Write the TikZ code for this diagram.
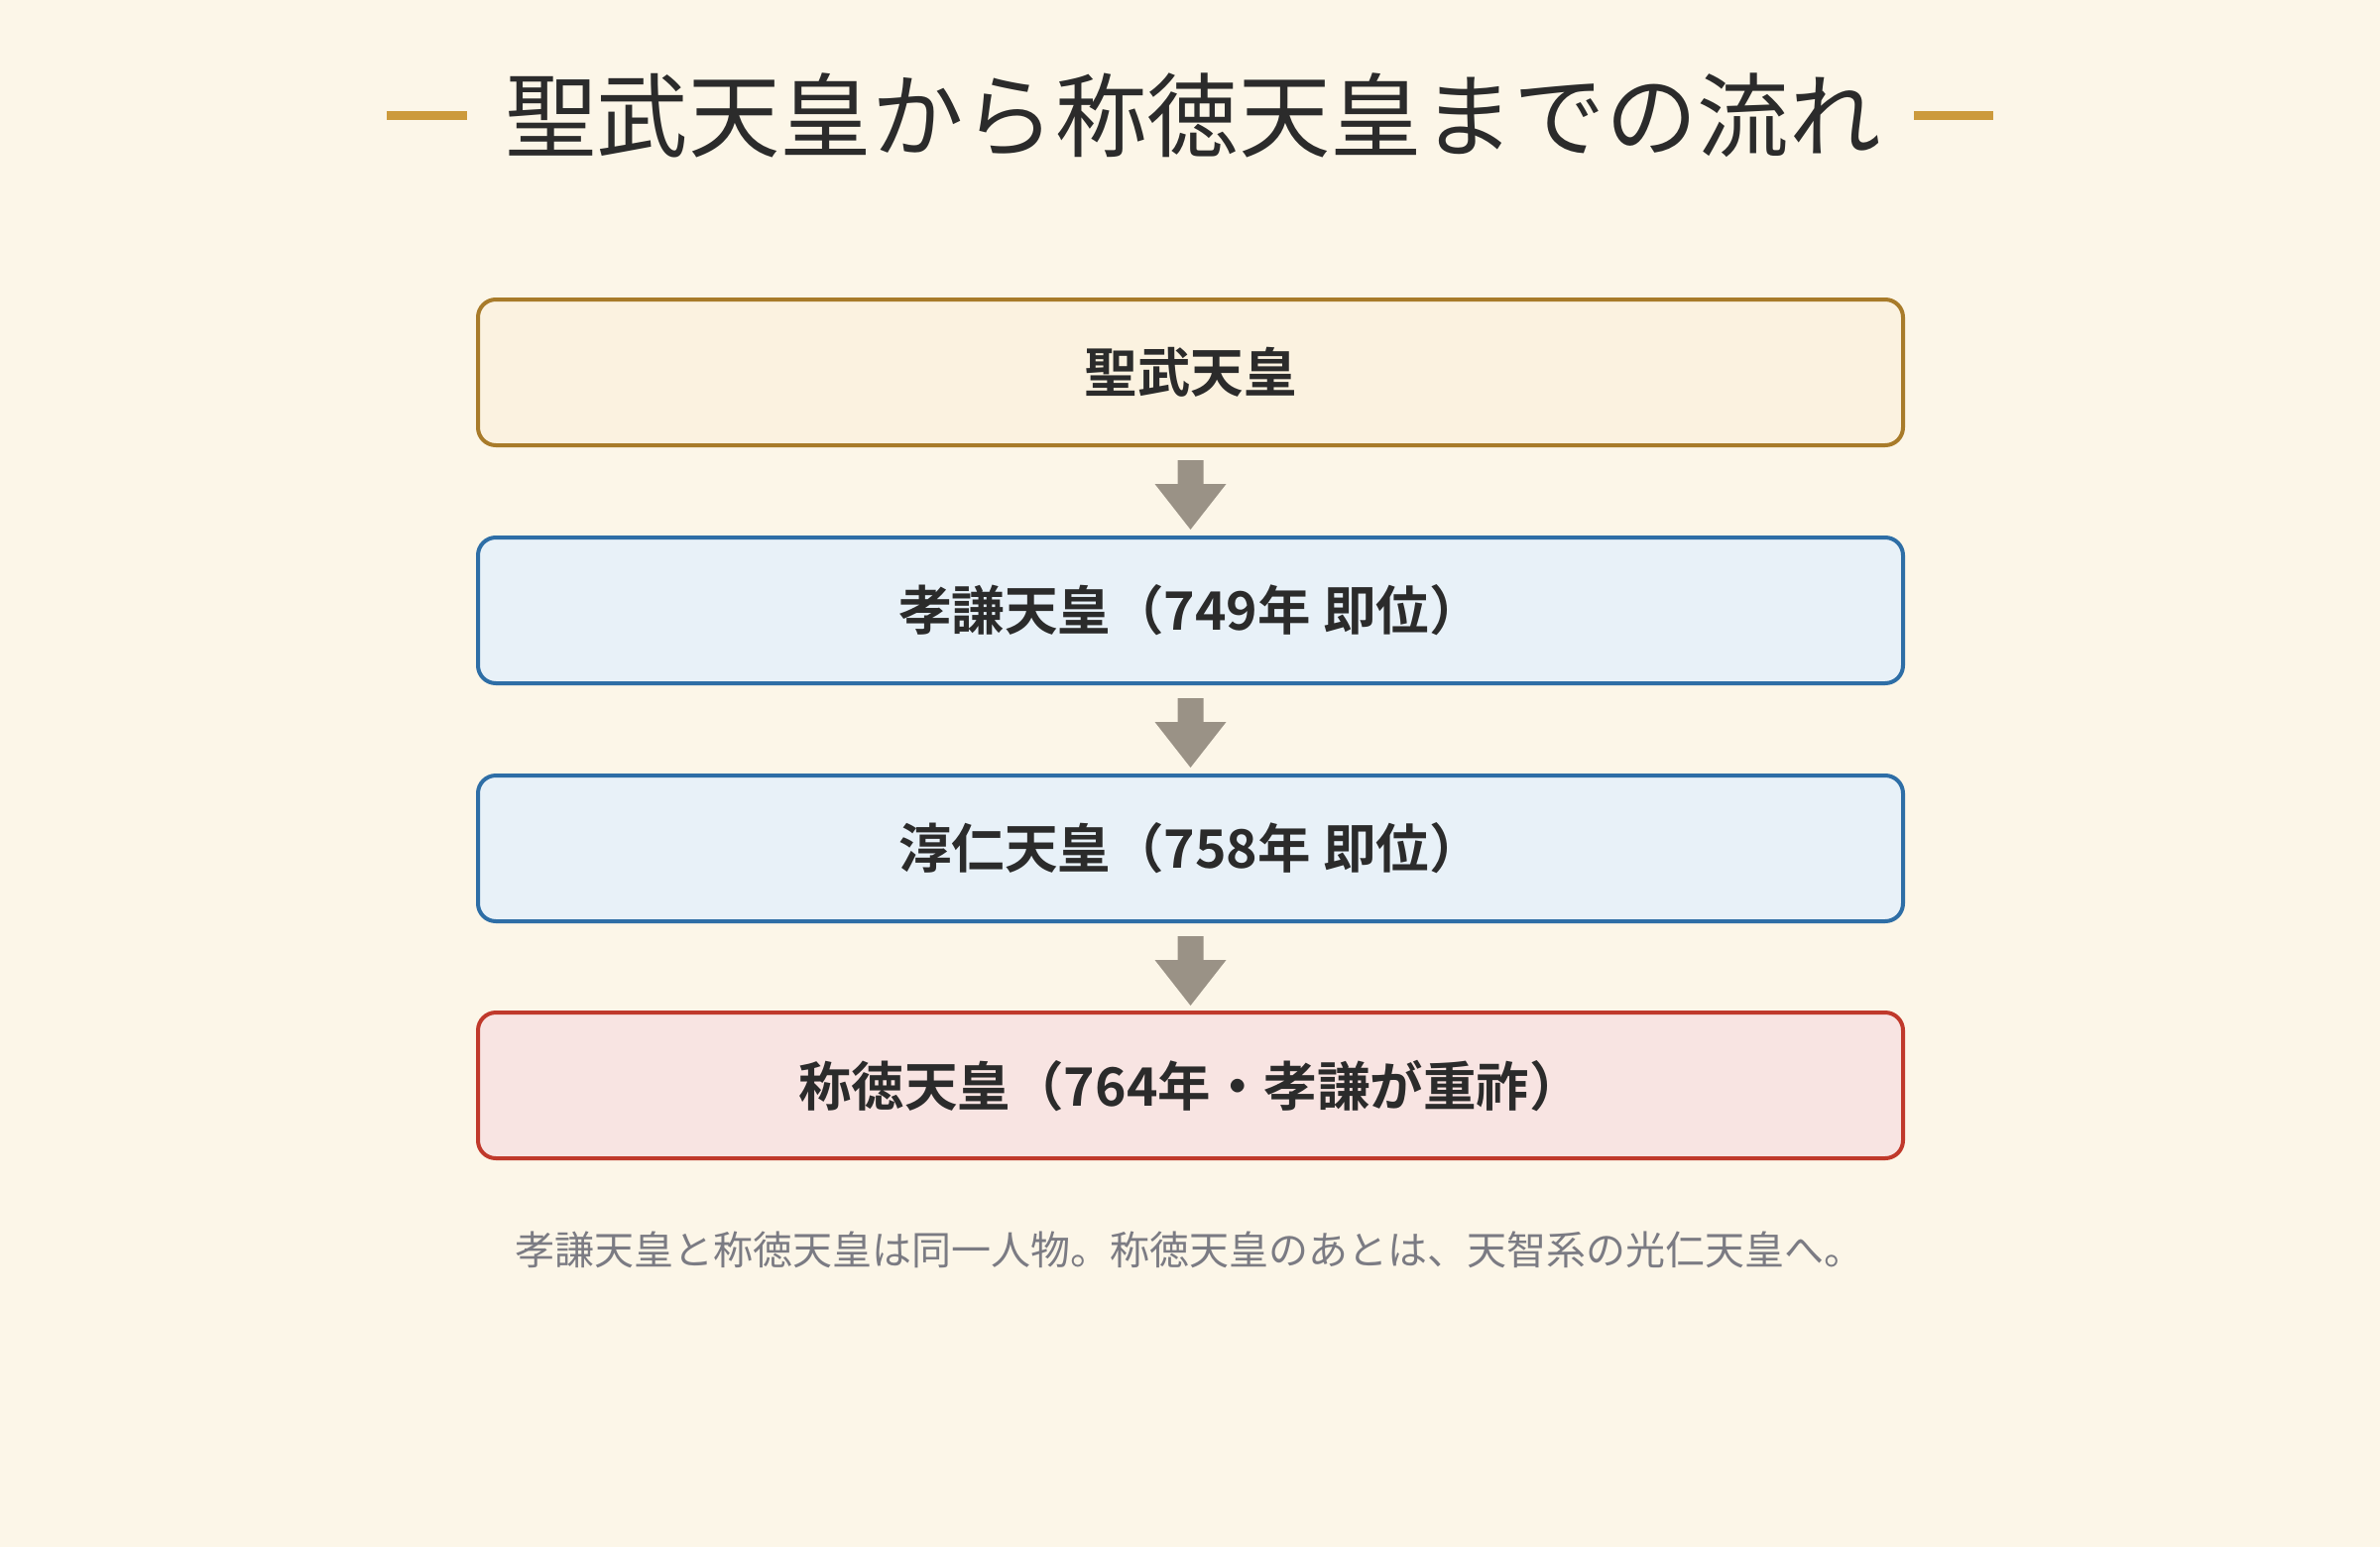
\documentclass[tikz,border=0pt]{standalone}
\usepackage{fontspec}
\newfontfamily\jp{Noto Sans CJK JP}
\newfontfamily\jpb{Noto Sans CJK JP Bold}
\definecolor{bg}{HTML}{FCF6E8}
\definecolor{gold}{HTML}{CC9A3C}
\definecolor{ink}{HTML}{2B2B2B}
\definecolor{brownb}{HTML}{A87B2A}
\definecolor{brownf}{HTML}{FBF2E0}
\definecolor{blueb}{HTML}{2E6EA6}
\definecolor{bluef}{HTML}{E8F1F8}
\definecolor{redb}{HTML}{C0392B}
\definecolor{redf}{HTML}{F8E4E2}
\definecolor{arrowc}{HTML}{9A9286}
\definecolor{capc}{HTML}{7B7B83}
\begin{document}
\begin{tikzpicture}[x=1pt,y=-1pt,
  stepbox/.style={draw, line width=4pt, rounded corners=18pt, minimum width=1437pt, minimum height=147pt, inner sep=0pt, text=ink, font=\jpb\fontsize{53.5}{62}\selectfont},
  goldbox/.style={stepbox, draw=brownb, fill=brownf},
  bluebox/.style={stepbox, draw=blueb, fill=bluef},
  redbox/.style={stepbox, draw=redb, fill=redf},
  flow/.style={fill=arrowc, draw=none}]
\fill[bg] (0,0) rectangle (2400,1560);
\useasboundingbox (0,0) rectangle (2400,1560);
% title
\node[text=ink, font=\jp\fontsize{92.5}{104}\selectfont, inner sep=0pt] (title) at (1203,116) {聖武天皇から称徳天皇までの流れ};
\fill[gold] (390,112) rectangle (471,121);
\fill[gold] (1930,112) rectangle (2010,121);
% boxes
\node[goldbox] (b1) at (1200.5,375.5) {聖武天皇};
\node[bluebox] (b2) at (1200.5,615.5) {孝謙天皇（749年 即位）};
\node[bluebox] (b3) at (1200.5,855.5) {淳仁天皇（758年 即位）};
\node[redbox] (b4) at (1200.5,1094.5) {称徳天皇（764年・孝謙が重祚）};
% arrows
\foreach \a/\b in {b1/b2,b2/b3,b3/b4}{
  \path (\a.south) ++(0,13) coordinate (s);
  \fill[flow] (s) ++(-13,0) -- ++(26,0) -- ++(0,24) -- ++(23,0) -- ++(-36,46) -- ++(-36,-46) -- ++(23,0) -- cycle;
}
% caption
\node[text=capc, font=\jp\fontsize{40}{47}\selectfont, inner sep=0pt] (cap) at (1199,1260) {孝謙天皇と称徳天皇は同一人物。称徳天皇のあとは、天智系の光仁天皇へ。};
\end{tikzpicture}
\end{document}
